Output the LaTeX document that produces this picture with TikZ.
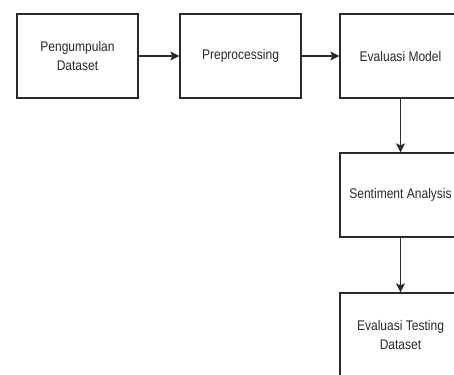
\documentclass[tikz,border=0pt]{standalone}
\usepackage{fontspec}
\setmainfont{Liberation Sans}[FakeStretch=0.86]
\usetikzlibrary{arrows.meta}
\definecolor{ln}{HTML}{2A2A2A}
\definecolor{tx}{HTML}{2A2A2A}
\tikzset{
  box/.style={draw=ln, line width=1.3pt, minimum width=121pt, minimum height=84pt, inner sep=0pt, align=center, text=tx, font=\fontsize{14}{19.5}\selectfont},
  conn/.style={draw=ln, line width=1.2pt, -{Stealth[length=9pt,width=9pt,inset=2pt]}}
}
\begin{document}
\begin{tikzpicture}[x=1pt,y=-1pt]
\useasboundingbox (0,0) rectangle (454,374);
\clip (0,0) rectangle (454,374);
\fill[white] (0,0) rectangle (454,374);
\node[box] (b1) at (77.5,56) {Pengumpulan\\Dataset};
\node[box] (b2) at (240.5,56) {Preprocessing};
\node[box] (b3) at (400.5,56) {Evaluasi Model};
\node[box] (b4) at (400.5,195) {Sentiment Analysis};
\node[box] (b5) at (400.5,335) {Evaluasi Testing\\Dataset};
\draw[conn] (b1) -- (b2);
\draw[conn] (b2) -- (b3);
\draw[conn] (b3) -- (b4);
\draw[conn] (b4) -- (b5);
\end{tikzpicture}
\end{document}
